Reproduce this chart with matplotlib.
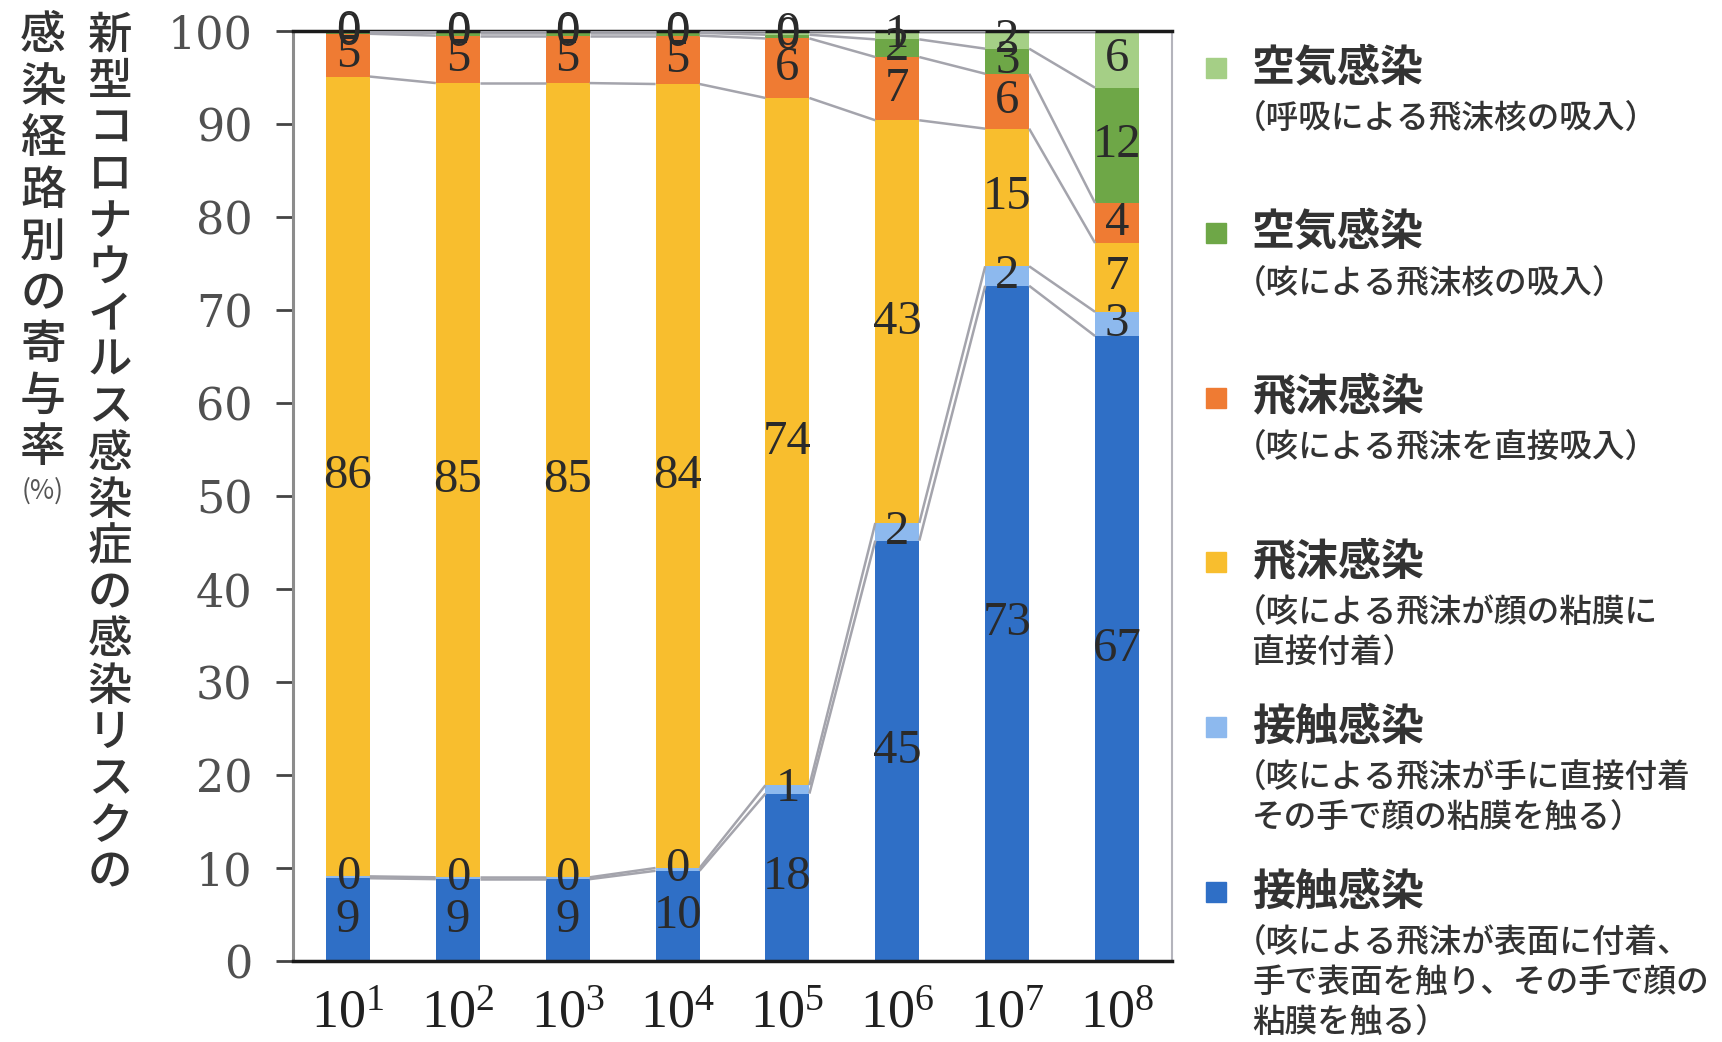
import matplotlib
matplotlib.use("Agg")
import matplotlib.pyplot as plt
import numpy as np

plt.rcParams["mathtext.fontset"] = "custom"
plt.rcParams["mathtext.rm"] = "Liberation Serif"
plt.rcParams["mathtext.it"] = "Liberation Serif:italic"

# Virus emission amount (10^1 ... 10^8) on the x axis
exponents = [1, 2, 3, 4, 5, 6, 7, 8]

# Contribution (%) of each infection route, stacked bottom -> top
contact_surface = [8.9, 8.8, 8.8, 9.7, 18.0, 45.2, 72.6, 67.2]
contact_hand = [0.2, 0.2, 0.2, 0.3, 0.9, 1.9, 2.1, 2.6]
droplet_mucosa = [86.0, 85.4, 85.4, 84.3, 73.9, 43.3, 14.8, 7.4]
droplet_inhale = [4.6, 5.1, 5.1, 5.2, 6.4, 6.8, 5.9, 4.3]
airborne_cough = [0.2, 0.3, 0.3, 0.3, 0.4, 1.9, 2.7, 12.4]
airborne_breath = [0.1, 0.2, 0.2, 0.2, 0.4, 0.9, 1.9, 6.1]

series = [contact_surface, contact_hand, droplet_mucosa,
          droplet_inhale, airborne_cough, airborne_breath]
colors = ["#2F6FC6", "#8DB9EE", "#F8BE2E", "#EF7B33", "#6EA747", "#A5CF86"]

y_ticks = [0, 10, 20, 30, 40, 50, 60, 70, 80, 90, 100]

ylabel_main = "新型コロナウイルス感染症の感染リスクの"
ylabel_sub = "感染経路別の寄与率"
ylabel_unit = "(%)"

# Legend, listed top -> bottom (reverse of the stacking order)
legend_titles = ["空気感染", "空気感染", "飛沫感染", "飛沫感染", "接触感染", "接触感染"]
legend_notes = [
    ["（呼吸による飛沫核の吸入）"],
    ["（咳による飛沫核の吸入）"],
    ["（咳による飛沫を直接吸入）"],
    ["（咳による飛沫が顔の粘膜に", "直接付着）"],
    ["（咳による飛沫が手に直接付着", "その手で顔の粘膜を触る）"],
    ["（咳による飛沫が表面に付着、", "手で表面を触り、その手で顔の", "粘膜を触る）"],
]
legend_colors = colors[::-1]

W, H = 1722, 1042
fig = plt.figure(figsize=(W / 100, H / 100), dpi=100)
ax = fig.add_axes([293 / W, (H - 961) / H, (1172 - 293) / W, (961 - 31) / H])

x = np.arange(len(exponents))
bar_w = 0.40
bottom = np.zeros(len(x))
tops = []
for vals, col in zip(series, colors):
    vals = np.asarray(vals, dtype=float)
    ax.bar(x, vals, bar_w, bottom=bottom, color=col, edgecolor="none", zorder=2)
    for xi, b, v in zip(x, bottom, vals):
        ax.text(xi, b + v / 2, f"{v:.0f}", ha="center", va="center",
                fontsize=35, family="Liberation Serif", color="#2a2a2a", zorder=4)
    bottom = bottom + vals
    tops.append(bottom.copy())

# Series lines joining the top of each segment between neighbouring bars
for top in tops:
    for i in range(len(x) - 1):
        ax.plot([x[i] + bar_w / 2, x[i + 1] - bar_w / 2], [top[i], top[i + 1]],
                color="#A4A4AC", lw=1.8, zorder=3, solid_capstyle="butt")

ax.set_xlim(-0.5, len(x) - 0.5)
ax.set_ylim(0, 100)
ax.set_yticks(y_ticks)
ax.set_yticklabels([str(t) for t in y_ticks], family="DejaVu Serif",
                   fontsize=32, color="#505050")
ax.set_xticks(x)
ax.set_xticklabels([r"$\mathregular{10^{%d}}$" % e for e in exponents],
                   family="Liberation Serif", fontsize=39, color="#202020")
ax.tick_params(axis="x", length=0, pad=20)
ax.tick_params(axis="y", direction="out", length=12, width=2,
               color="#444444", pad=17)

ax.spines["top"].set_color("#1a1a1a")
ax.spines["top"].set_linewidth(2.5)
ax.spines["bottom"].set_color("#1a1a1a")
ax.spines["bottom"].set_linewidth(2.5)
ax.spines["left"].set_color("#8c8c8c")
ax.spines["left"].set_linewidth(2.2)
ax.spines["right"].set_color("#b4b4bc")
ax.spines["right"].set_linewidth(1.5)

# Vertical y-axis title, written one character per row
cjk = "Noto Sans CJK JP"
for i, ch in enumerate(ylabel_main):
    fig.text(110 / W, 1 - (36 + 46.5 * i) / H, ch, ha="center", va="center",
             fontsize=32, family=cjk, weight="medium", color="#333333")
for i, ch in enumerate(ylabel_sub):
    fig.text(43 / W, 1 - (36 + 51.5 * i) / H, ch, ha="center", va="center",
             fontsize=33, family=cjk, weight="medium", color="#333333")
fig.text(43 / W, 1 - 491 / H, ylabel_unit, ha="center", va="center",
         fontsize=19, family=cjk, color="#555555")

# Legend drawn beside the plot
title_fs = 31
note_fs = 23.5
note_em = note_fs * 100 / 72
x_sq = 1206
x_txt = 1252
for j, (title, notes, col) in enumerate(zip(legend_titles, legend_notes, legend_colors)):
    yc = 68 + 164.8 * j
    fig.patches.append(plt.Rectangle((x_sq / W, 1 - (yc + 10) / H), 20 / W, 20 / H,
                                     transform=fig.transFigure, color=col))
    fig.text(x_txt / W, 1 - yc / H, title, ha="left", va="center",
             fontsize=title_fs, family=cjk, weight="bold", color="#333333")
    for k, line in enumerate(notes):
        yl = yc + 50 + 40 * k
        xl = x_txt - (0.55 * note_em if line.startswith("（") else 0)
        fig.text(xl / W, 1 - yl / H, line, ha="left", va="center",
                 fontsize=note_fs, family=cjk, weight="medium", color="#333333")

fig.savefig("out.png", dpi=100)
